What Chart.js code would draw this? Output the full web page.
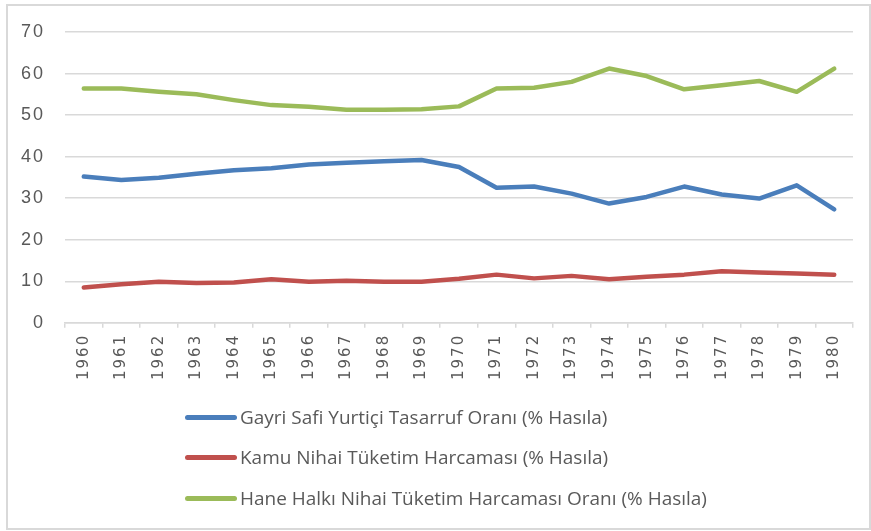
<!DOCTYPE html>
<html>
<head>
<meta charset="utf-8">
<script src="https://cdn.jsdelivr.net/npm/chart.js@4/dist/chart.umd.min.js"></script>
<style>
  html, body { margin: 0; padding: 0; background: #fff; }
  #wrap { position: relative; width: 871px; height: 531px; }
  #frame { position: absolute; left: 6px; top: 4px; width: 861px; height: 522px; border: 2px solid #d9d9d9; box-sizing: content-box; pointer-events: none; }
  canvas { position: absolute; left: 0; top: 0; }
  #legend { position: absolute; left: 185px; top: 400px; font-family: "Open Sans", "Liberation Sans", sans-serif; font-size: 18.5px; color: #595959; }
  .item { position: absolute; left: 0; white-space: nowrap; height: 24px; line-height: 24px; }
  .swatch { position: absolute; left: 0; top: 10px; width: 52px; height: 5px; border-radius: 2.5px; }
  .txt { position: absolute; left: 55px; top: 0; transform: scaleX(1.025); transform-origin: 0 50%; }
</style>
</head>
<body>
<div id="wrap">
  <canvas id="c" width="871" height="531"></canvas>
  <div id="frame"></div>
  <div id="legend"></div>
</div>
<script>
const years = ["1960","1961","1962","1963","1964","1965","1966","1967","1968","1969","1970","1971","1972","1973","1974","1975","1976","1977","1978","1979","1980"];
const savingsRate = [35.2,34.4,34.9,35.9,36.7,37.2,38.1,38.5,38.9,39.2,37.5,32.5,32.8,31.1,28.7,30.3,32.8,30.9,29.9,33.1,27.3];
const govConsumption = [8.5,9.3,9.9,9.6,9.7,10.5,9.9,10.1,9.9,9.9,10.6,11.6,10.7,11.3,10.5,11.1,11.6,12.4,12.1,11.9,11.6];
const householdConsumption = [56.4,56.4,55.6,55.0,53.6,52.4,52.0,51.3,51.3,51.4,52.1,56.4,56.6,58.0,61.2,59.4,56.2,57.2,58.2,55.6,61.2];
const seriesLabels = ["Gayri Safi Yurtiçi Tasarruf Oranı (% Hasıla)", "Kamu Nihai Tüketim Harcaması (% Hasıla)", "Hane Halkı Nihai Tüketim Harcaması Oranı (% Hasıla)"];
const yTicks = [0,10,20,30,40,50,60,70];

const colors = ["#4a7ebb", "#c0504d", "#9bbb59"];
const mk = (label, data, color) => ({
  label, data, borderColor: color, backgroundColor: color,
  borderWidth: 4.5, pointRadius: 0, tension: 0,
  borderCapStyle: 'round', borderJoinStyle: 'round', fill: false
});

const spacing = {
  id: 'spacing',
  beforeLayout(chart) { chart.ctx.letterSpacing = '2px'; },
  beforeDraw(chart) { chart.ctx.letterSpacing = '2px'; }
};

const chart = new Chart(document.getElementById('c'), {
  type: 'line',
  data: {
    labels: years,
    datasets: [
      mk(seriesLabels[0], savingsRate, colors[0]),
      mk(seriesLabels[1], govConsumption, colors[1]),
      mk(seriesLabels[2], householdConsumption, colors[2])
    ]
  },
  plugins: [spacing],
  options: {
    responsive: false,
    animation: false,
    layout: { padding: { left: 1, right: 18, top: 32, bottom: 145 } },
    plugins: { legend: { display: false }, tooltip: { enabled: false } },
    scales: {
      x: {
        offset: true,
        grid: { display: true, offset: true, drawOnChartArea: false, drawTicks: true, tickLength: 5, color: '#d9d9d9', lineWidth: 1.5 },
        border: { display: true, color: '#d9d9d9', width: 1.5 },
        ticks: { minRotation: 90, maxRotation: 90, autoSkip: false, padding: 6, color: '#595959', font: { family: 'DejaVu Sans', size: 15 } }
      },
      y: {
        min: 0, max: 70,
        afterBuildTicks: (axis) => { axis.ticks = yTicks.map(v => ({ value: v })); },
        grid: { color: '#d9d9d9', lineWidth: 1.5, drawTicks: false },
        border: { display: false },
        ticks: { padding: 20, color: '#595959', font: { family: 'Liberation Sans', size: 18 } }
      }
    }
  }
});

const legend = document.getElementById('legend');
const tops = [5, 45, 86];
chart.data.datasets.forEach((ds, i) => {
  const item = document.createElement('div');
  item.className = 'item';
  item.style.top = tops[i] + 'px';
  const sw = document.createElement('div');
  sw.className = 'swatch';
  sw.style.background = ds.borderColor;
  const t = document.createElement('span');
  t.className = 'txt';
  t.textContent = ds.label;
  item.appendChild(sw); item.appendChild(t);
  legend.appendChild(item);
});
</script>
</body>
</html>
